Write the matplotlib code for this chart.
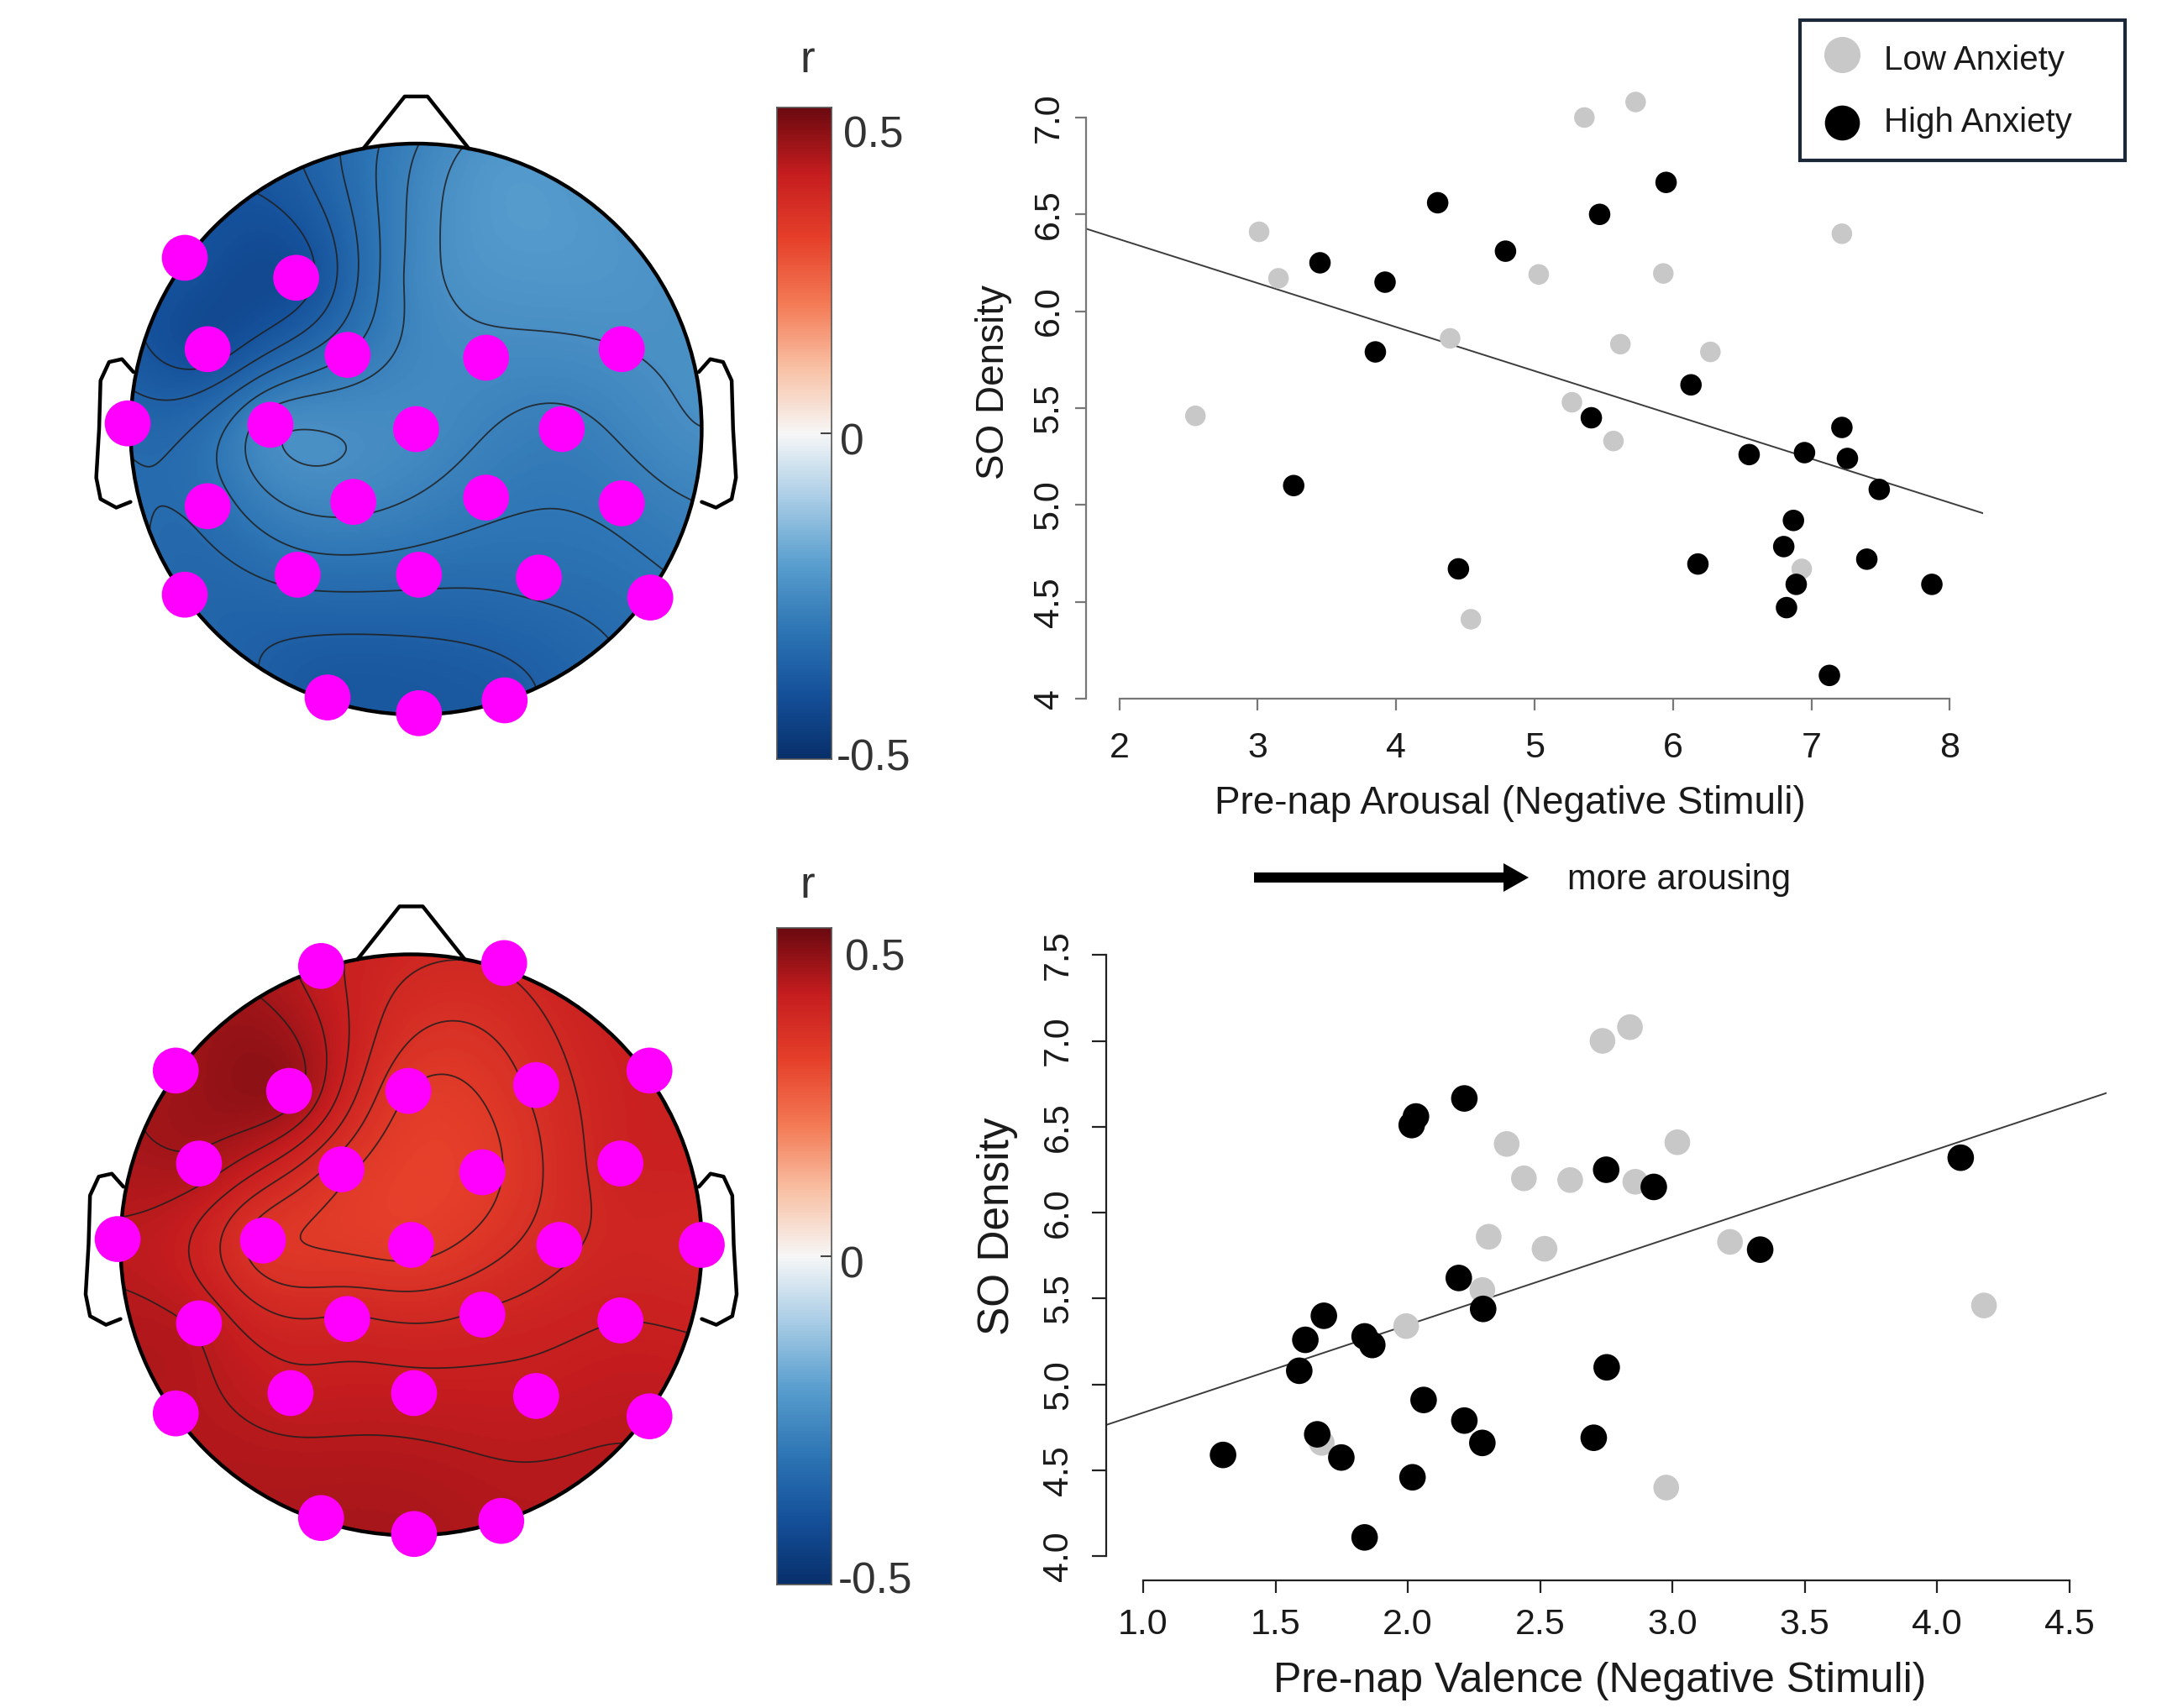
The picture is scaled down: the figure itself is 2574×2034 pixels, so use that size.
import numpy as np
import matplotlib
matplotlib.use('Agg')
import matplotlib.pyplot as plt
from matplotlib.colors import LinearSegmentedColormap
from matplotlib.patches import Circle, Rectangle, FancyArrow

plt.rcParams['font.family'] = ['Liberation Sans', 'DejaVu Sans']

W, H = 2574, 2034

# ---------------- data ----------------
# top scatter: pre-nap arousal vs SO density
arousal_low = [2.55, 3.01, 3.15, 4.39, 4.54, 5.03, 5.27, 5.57, 5.36, 5.62, 5.73, 5.93, 6.27, 7.22, 6.93]
so_arousal_low = [5.46, 6.41, 6.17, 5.86, 4.41, 6.19, 5.53, 5.33, 7.00, 5.83, 7.08, 6.195, 5.79, 6.40, 4.67]
arousal_high = [3.26, 3.45, 3.85, 3.92, 4.30, 4.45, 4.79, 5.47, 5.41, 5.95, 6.13, 6.55,
                6.95, 7.22, 7.26, 7.49, 6.87, 6.80, 6.18, 7.40, 6.89, 7.87, 6.82, 7.13]
so_arousal_high = [5.10, 6.25, 5.79, 6.15, 6.56, 4.67, 6.31, 6.50, 5.45, 6.665, 5.62, 5.26,
                   5.27, 5.40, 5.24, 5.08, 4.92, 4.785, 4.695, 4.72, 4.59, 4.59, 4.47, 4.12]
arousal_fit = (6.825, -0.2267)   # intercept, slope

# bottom scatter: pre-nap valence vs SO density
valence_low = [1.675, 1.994, 2.282, 2.306, 2.374, 2.439, 2.517, 2.614, 2.736, 2.84, 2.86, 3.019, 3.218, 4.178, 2.977]
so_valence_low = [4.66, 5.34, 5.55, 5.86, 6.40, 6.20, 5.79, 6.19, 7.00, 7.08, 6.18, 6.41, 5.83, 5.46, 4.40]
valence_high = [1.302, 1.590, 1.613, 1.683, 1.658, 1.749, 1.837, 1.866, 1.837, 2.018, 2.015, 2.031,
                2.060, 2.214, 2.193, 2.214, 2.282, 2.285, 2.703, 2.750, 2.752, 2.930, 3.332, 4.090]
so_valence_high = [4.59, 5.08, 5.26, 5.40, 4.71, 4.575, 5.28, 5.23, 4.11, 4.46, 6.51, 6.56,
                   4.91, 6.665, 5.62, 4.79, 4.66, 5.44, 4.69, 6.25, 5.10, 6.15, 5.785, 6.32]
valence_fit = (4.325, 0.511)

groups = ['Low Anxiety', 'High Anxiety']

# electrode layout (head radius = 1)
elec_names = ['Fp1', 'Fp2', 'F7', 'F3', 'Fz', 'F4', 'F8',
              'FC5', 'FC1', 'FC2', 'FC6',
              'T7', 'C3', 'Cz', 'C4', 'T8',
              'CP5', 'CP1', 'CP2', 'CP6',
              'P7', 'P3', 'Pz', 'P4', 'P8',
              'O1', 'Oz', 'O2']
elec_x = [-0.31, 0.32, -0.81, -0.42, -0.01, 0.43, 0.82,
          -0.73, -0.24, 0.245, 0.72,
          -1.01, -0.51, 0.0, 0.51, 1.0,
          -0.73, -0.22, 0.245, 0.72,
          -0.81, -0.415, 0.01, 0.43, 0.82,
          -0.31, 0.01, 0.31]
elec_y = [0.96, 0.97, 0.60, 0.53, 0.53, 0.55, 0.60,
          0.28, 0.26, 0.25, 0.28,
          0.02, 0.015, 0.0, 0.0, 0.0,
          -0.27, -0.255, -0.24, -0.26,
          -0.58, -0.51, -0.51, -0.52, -0.59,
          -0.94, -0.995, -0.95]

# correlation r per electrode, arousal map (top) and valence map (bottom)
r_arousal = [-0.34, -0.22, -0.39, -0.41, -0.26, -0.22, -0.23,
             -0.41, -0.30, -0.25, -0.24,
             -0.34, -0.25, -0.25, -0.28, -0.24,
             -0.32, -0.26, -0.29, -0.29,
             -0.34, -0.32, -0.32, -0.32, -0.31,
             -0.38, -0.38, -0.37]
sig_arousal = [0, 0, 1, 1, 0, 0, 0,
               1, 1, 1, 1,
               1, 1, 1, 1, 0,
               1, 1, 1, 1,
               1, 1, 1, 1, 1,
               1, 1, 1]
r_valence = [0.40, 0.37, 0.44, 0.45, 0.32, 0.35, 0.39,
             0.43, 0.33, 0.31, 0.38,
             0.41, 0.33, 0.31, 0.36, 0.37,
             0.41, 0.37, 0.37, 0.39,
             0.42, 0.40, 0.40, 0.40, 0.41,
             0.43, 0.43, 0.42]
sig_valence = [1] * 28

# ---------------- style ----------------
GRAY = '#c8c8c8'
cmap = LinearSegmentedColormap.from_list('rb', [
    '#08306b', '#15519b', '#2f77b6', '#5a9fcf', '#a9cde6', '#f7f7f7',
    '#f9c1a5', '#f47a55', '#e6402b', '#c61d1f', '#6b0a10'])

nose_x = [-0.185, -0.04, 0.04, 0.185]
nose_y = [0.982, 1.165, 1.165, 0.982]
ear_x = [-0.99, -1.03, -1.075, -1.105, -1.11, -1.12, -1.105, -1.05, -1.0]
ear_y = [0.20, 0.245, 0.235, 0.17, 0.0, -0.17, -0.245, -0.275, -0.255]

fig = plt.figure(figsize=(W / 100, H / 100), dpi=100)


def px_axes(left, top, right, bottom):
    return fig.add_axes([left / W, 1 - bottom / H, (right - left) / W, (bottom - top) / H])


def green(d):
    with np.errstate(divide='ignore', invalid='ignore'):
        g = d ** 2 * (np.log(d) - 1)
    g[d == 0] = 0
    return g


def topo(cx, cy, R, vals, sig):
    ax = px_axes(cx - 1.25 * R, cy - 1.35 * R, cx + 1.25 * R, cy + 1.15 * R)
    ax.set_xlim(-1.25, 1.25)
    ax.set_ylim(-1.15, 1.35)
    ax.axis('off')
    ex, ey = np.array(elec_x), np.array(elec_y)
    v = np.array(vals)
    d = np.hypot(ex[:, None] - ex[None, :], ey[:, None] - ey[None, :])
    w = np.linalg.solve(green(d), v)
    g = np.linspace(-1.02, 1.02, 321)
    gx, gy = np.meshgrid(g, g)
    dg = np.hypot(gx[..., None] - ex, gy[..., None] - ey)
    z = green(dg) @ w
    clip = Circle((0, 0), 1.0, transform=ax.transData)
    im = ax.imshow(z, extent=(-1.02, 1.02, -1.02, 1.02), origin='lower', cmap=cmap,
                   vmin=-0.5, vmax=0.5, interpolation='bilinear', zorder=1)
    im.set_clip_path(clip)
    zin = z[np.hypot(gx, gy) <= 1.0]
    levels = np.linspace(zin.min(), zin.max(), 8)[1:-1]
    cs = ax.contour(gx, gy, z, levels=levels, colors='#1e1e1e', linewidths=1.3,
                    linestyles='solid', alpha=0.85, zorder=2)
    cs.set_clip_path(clip)
    ax.add_patch(Circle((0, 0), 1.0, fill=False, ec='black', lw=3.2, zorder=3))
    ax.plot(nose_x, nose_y, color='black', lw=3.2, solid_joinstyle='round', solid_capstyle='round')
    ax.plot(ear_x, ear_y, color='black', lw=3.2, solid_joinstyle='round', solid_capstyle='round')
    ax.plot(-np.array(ear_x), ear_y, color='black', lw=3.2, solid_joinstyle='round', solid_capstyle='round')
    m = np.array(sig, dtype=bool)
    ax.scatter(ex[m], ey[m], s=1550, c='#ff00ff', edgecolors='none', zorder=5)


def colorbar(left, top, right, bottom):
    cb = px_axes(left, top, right, bottom)
    cb.imshow(np.linspace(-0.5, 0.5, 256)[:, None], aspect='auto', cmap=cmap, origin='lower',
              extent=(0, 1, -0.5, 0.5), vmin=-0.5, vmax=0.5)
    cb.set_xticks([])
    cb.set_yticks([])
    for s in cb.spines.values():
        s.set_color('#555555')
        s.set_linewidth(1.2)
    cb.plot([0.82, 1.0], [0, 0], color='#444444', lw=1.5)


topo(495.4, 511, 340, r_arousal, sig_arousal)
topo(489.5, 1482.5, 346, r_valence, sig_valence)
colorbar(925, 128, 990, 904)
colorbar(925, 1105, 990, 1887)


def scatter_panel(rect, xl, yl, xs, ys, size_low, size_high, fit, xbounds, ybounds,
                  xticks, xtl, yticks, ytl, xlabel, ylabel, xlc, ylc, fs_lab,
                  spine_col, tick_len, pads):
    ax = px_axes(*rect)
    ax.scatter(xs[0], ys[0], s=size_low, c=GRAY, edgecolors='none', zorder=3)
    ax.scatter(xs[1], ys[1], s=size_high, c='black', edgecolors='none', zorder=4)
    ax.axline((0, fit[0]), slope=fit[1], color='#3c3c3c', lw=1.4, zorder=2)
    ax.set_xlim(*xl)
    ax.set_ylim(*yl)
    ax.patch.set_alpha(0)
    for s in ['top', 'right']:
        ax.spines[s].set_visible(False)
    for s in ['left', 'bottom']:
        ax.spines[s].set_color(spine_col)
        ax.spines[s].set_linewidth(1.6)
    ax.spines['bottom'].set_bounds(*xbounds)
    ax.spines['left'].set_bounds(*ybounds)
    ax.set_xticks(xticks, xtl)
    ax.set_yticks(yticks, ytl)
    ax.tick_params(axis='x', length=tick_len[0], width=1.6, color=spine_col,
                   labelsize=31, labelcolor='#1a1a1a', pad=pads[0])
    ax.tick_params(axis='y', length=tick_len[1], width=1.6, color=spine_col,
                   labelsize=31, labelcolor='#1a1a1a', pad=pads[1], labelrotation=90)
    for lab in ax.get_yticklabels():
        lab.set_va('center')
    ax.set_xlabel(xlabel, fontsize=fs_lab[0], color='#1a1a1a')
    ax.set_ylabel(ylabel, fontsize=fs_lab[1], color='#1a1a1a')
    ax.xaxis.set_label_coords(*xlc)
    ax.xaxis.label.set_va('center')
    ax.yaxis.set_label_coords(*ylc)
    ax.yaxis.label.set_va('center')
    return ax


scatter_panel((1293, 93.8, 2361, 832), (1.76, 8.24), (4.0, 7.2),
              (arousal_low, arousal_high), (so_arousal_low, so_arousal_high), 311, 338,
              arousal_fit, (2, 8), (4, 7),
              [2, 3, 4, 5, 6, 7, 8], ['2', '3', '4', '5', '6', '7', '8'],
              [4, 4.5, 5, 5.5, 6, 6.5, 7], ['4', '4.5', '5.0', '5.5', '6.0', '6.5', '7.0'],
              'Pre-nap Arousal (Negative Stimuli)', 'SO Density',
              (0.473, -0.1687), (-0.103, 0.511), (33, 33),
              '#777777', (10, 9.5), (18, 8))

scatter_panel((1316.9, 1108.6, 2507.6, 1882), (0.86, 4.64), (3.86, 7.64),
              (valence_low, valence_high), (so_valence_low, so_valence_high), 485, 518,
              valence_fit, (1, 4.5), (4, 7.5),
              [1, 1.5, 2, 2.5, 3, 3.5, 4, 4.5], ['1.0', '1.5', '2.0', '2.5', '3.0', '3.5', '4.0', '4.5'],
              [4, 4.5, 5, 5.5, 6, 6.5, 7, 7.5], ['4.0', '4.5', '5.0', '5.5', '6.0', '6.5', '7.0', '7.5'],
              'Pre-nap Valence (Negative Stimuli)', 'SO Density',
              (0.494, -0.155), (-0.1083, 0.546), (36, 37),
              '#222222', (11, 12.5), (13, 14))

# overlay in pixel coordinates for free text, arrow and legend
ov = fig.add_axes([0, 0, 1, 1])
ov.set_xlim(0, W)
ov.set_ylim(H, 0)
ov.axis('off')

cb_txt = dict(fontsize=37, color='#333333', ha='left', va='baseline')
ov.text(961, 86, 'r', fontsize=38, color='#333333', ha='center', va='baseline')
ov.text(1004, 175, '0.5', **cb_txt)
ov.text(1000, 542, '0', **cb_txt)
ov.text(996, 918, '-0.5', **cb_txt)
ov.text(961, 1069, 'r', fontsize=38, color='#333333', ha='center', va='baseline')
ov.text(1006, 1155, '0.5', **cb_txt)
ov.text(1000, 1521, '0', **cb_txt)
ov.text(998, 1897, '-0.5', **cb_txt)

ov.add_patch(FancyArrow(1493, 1045, 327, 0, width=12, head_width=34, head_length=30,
                        length_includes_head=True, color='black', lw=0))
ov.text(1866, 1059, 'more arousing', fontsize=30, color='#1a1a1a', ha='left', va='baseline')

ov.add_patch(Rectangle((2143, 24), 387, 167, facecolor='white', edgecolor='#1b2838', lw=3))
ov.plot([2193], [65], 'o', ms=31, color=GRAY, mec='none')
ov.plot([2193], [146], 'o', ms=30, color='black', mec='none')
ov.text(2243, 83.3, groups[0], fontsize=29, color='#1a1a1a', ha='left', va='baseline')
ov.text(2243, 156.7, groups[1], fontsize=29, color='#1a1a1a', ha='left', va='baseline')

fig.savefig('out.png', dpi=100)
